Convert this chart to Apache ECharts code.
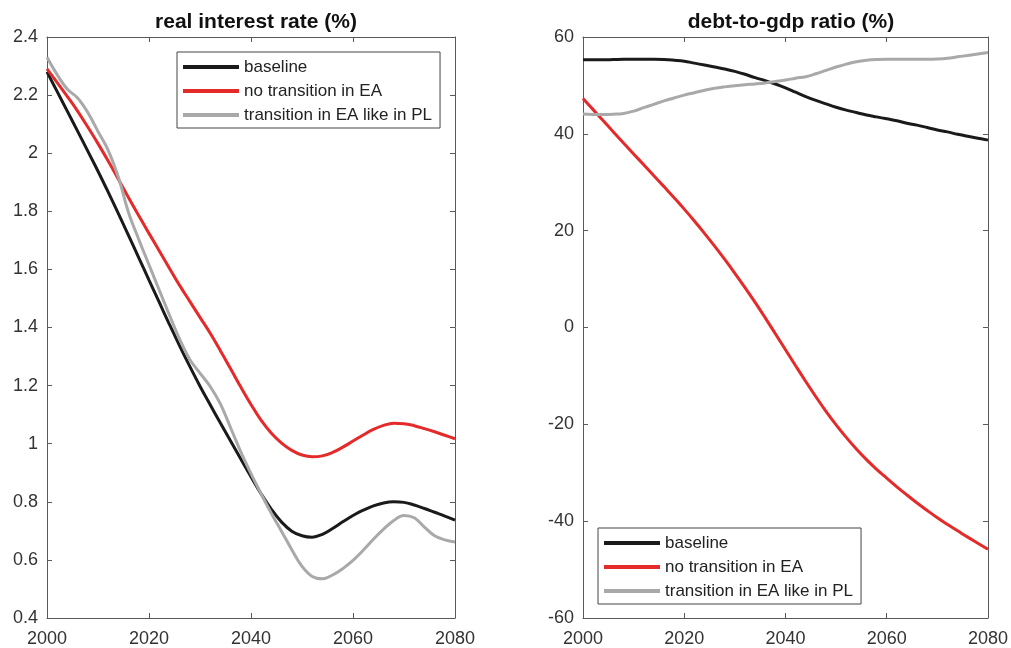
<!DOCTYPE html>
<html>
<head>
<meta charset="utf-8">
<title>real interest rate / debt-to-gdp ratio</title>
<script src="https://cdn.jsdelivr.net/npm/echarts@6.0.0/dist/echarts.min.js"></script>
<style>
  html, body { margin: 0; padding: 0; background: #fff; }
  #chart { width: 1011px; height: 648px; }
</style>
</head>
<body>
<div id="chart"></div>
<script>
// years on the horizontal axis (both panels)
const years = [2000, 2002, 2004, 2006, 2008, 2010, 2012, 2014, 2016, 2018,
  2020, 2022, 2024, 2026, 2028, 2030, 2032, 2034, 2036, 2038,
  2040, 2042, 2044, 2046, 2048, 2050, 2052, 2054, 2056, 2058,
  2060, 2062, 2064, 2066, 2068, 2070, 2072, 2074, 2076, 2078, 2080];

const seriesNames = ['baseline', 'no transition in EA', 'transition in EA like in PL'];

// real interest rate (%)
const rateBaseline = [2.28, 2.212, 2.144, 2.076, 2.007, 1.938, 1.866, 1.792, 1.716, 1.64,
  1.563, 1.487, 1.411, 1.337, 1.266, 1.198, 1.134, 1.071, 1.009, 0.947,
  0.886, 0.827, 0.774, 0.73, 0.699, 0.683, 0.678, 0.688, 0.708, 0.731,
  0.753, 0.771, 0.786, 0.796, 0.80, 0.798, 0.789, 0.777, 0.764, 0.751, 0.737];
const rateNoTransition = [2.29, 2.243, 2.195, 2.145, 2.09, 2.033, 1.973, 1.91, 1.847, 1.785,
  1.724, 1.664, 1.604, 1.545, 1.49, 1.435, 1.38, 1.32, 1.258, 1.195,
  1.135, 1.08, 1.036, 1.002, 0.977, 0.961, 0.955, 0.958, 0.97, 0.988,
  1.009, 1.03, 1.049, 1.063, 1.07, 1.069, 1.062, 1.052, 1.041, 1.029, 1.017];
const rateTransitionPL = [2.33, 2.27, 2.22, 2.19, 2.14, 2.075, 2.01, 1.917, 1.795, 1.703,
  1.616, 1.529, 1.443, 1.36, 1.29, 1.243, 1.197, 1.137, 1.055, 0.972,
  0.897, 0.827, 0.76, 0.698, 0.635, 0.578, 0.543, 0.535, 0.548, 0.57,
  0.598, 0.633, 0.671, 0.706, 0.736, 0.753, 0.745, 0.713, 0.683, 0.669, 0.662];

// debt-to-gdp ratio (%)
const debtBaseline = [55.3, 55.3, 55.3, 55.35, 55.4, 55.4, 55.4, 55.4, 55.35, 55.2,
  55.0, 54.6, 54.2, 53.8, 53.4, 52.9, 52.3, 51.6, 51.0, 50.3,
  49.5, 48.6, 47.7, 46.9, 46.2, 45.5, 44.9, 44.4, 43.9, 43.5,
  43.1, 42.7, 42.2, 41.8, 41.3, 40.8, 40.4, 39.9, 39.5, 39.1, 38.7];
const debtNoTransition = [47.3, 45.0, 42.7, 40.4, 38.1, 35.85, 33.6, 31.35, 29.1, 26.8,
  24.45, 22.0, 19.45, 16.8, 14.05, 11.2, 8.25, 5.2, 2.0, -1.3,
  -4.6, -7.9, -11.15, -14.3, -17.3, -20.1, -22.7, -25.1, -27.3, -29.3,
  -31.1, -32.9, -34.6, -36.25, -37.8, -39.3, -40.7, -42.0, -43.3, -44.55, -45.8];
const debtTransitionPL = [44.1, 44.0, 44.0, 44.05, 44.2, 44.7, 45.4, 46.1, 46.8, 47.4,
  48.0, 48.5, 49.0, 49.4, 49.7, 49.95, 50.15, 50.3, 50.5, 50.8,
  51.1, 51.5, 51.8, 52.4, 53.1, 53.8, 54.4, 54.9, 55.2, 55.35,
  55.4, 55.4, 55.4, 55.4, 55.4, 55.45, 55.6, 55.9, 56.2, 56.5, 56.8];

const lineColors = ['#1a1a1a', '#e52a2a', '#a9a9a9'];
const fontFamily = '"Liberation Sans", Arial, Helvetica, sans-serif';
const frameColor = '#595959';

const pairs = (vals) => years.map((y, i) => [y, vals[i]]);

// one axis of a panel; the top / right copies only draw the frame and inner ticks
function makeXAxis(gridIndex, position) {
  return {
    type: 'value', gridIndex: gridIndex, position: position,
    min: 2000, max: 2080, interval: 20,
    axisLine: { show: true, onZero: false, lineStyle: { color: frameColor, width: 1 } },
    axisTick: { show: true, inside: true, length: 5, lineStyle: { color: frameColor } },
    axisLabel: {
      show: position === 'bottom', margin: 12, color: '#333',
      fontSize: 18, fontFamily: fontFamily,
      formatter: (v) => String(v)
    },
    splitLine: { show: false }
  };
}

function makeYAxis(gridIndex, position, min, max, interval) {
  return {
    type: 'value', gridIndex: gridIndex, position: position,
    min: min, max: max, interval: interval,
    axisLine: { show: true, onZero: false, lineStyle: { color: frameColor, width: 1 } },
    axisTick: { show: true, inside: true, length: 5, lineStyle: { color: frameColor } },
    axisLabel: {
      show: position === 'left', margin: 9, color: '#333',
      fontSize: 18, fontFamily: fontFamily,
      formatter: (v) => String(Math.round(v * 10) / 10)
    },
    splitLine: { show: false }
  };
}

function makeSeries(name, vals, colorIdx, axisIdx) {
  return {
    name: name, type: 'line', data: pairs(vals),
    xAxisIndex: axisIdx, yAxisIndex: axisIdx,
    symbol: 'none', smooth: 0.4,
    lineStyle: { color: lineColors[colorIdx], width: 3 },
    itemStyle: { color: lineColors[colorIdx] },
    animation: false
  };
}

function makeLegend(left, top) {
  return {
    data: seriesNames, orient: 'vertical', left: left, top: top,
    icon: 'rect', itemWidth: 56, itemHeight: 4, itemGap: 4,
    padding: [5, 8, 3, 6],
    backgroundColor: '#fff', borderColor: '#444', borderWidth: 1,
    textStyle: { fontSize: 17, lineHeight: 20, color: '#222', fontFamily: fontFamily },
    selectedMode: false
  };
}

const chart = echarts.init(document.getElementById('chart'));
chart.setOption({
  animation: false,
  title: [
    {
      text: 'real interest rate (%)', left: 251, top: 7, textAlign: 'center',
      textStyle: { fontSize: 21, fontWeight: 'bold', color: '#111', fontFamily: fontFamily }
    },
    {
      text: 'debt-to-gdp ratio (%)', left: 786, top: 7, textAlign: 'center',
      textStyle: { fontSize: 21, fontWeight: 'bold', color: '#111', fontFamily: fontFamily }
    }
  ],
  legend: [makeLegend(177, 52), makeLegend(598, 528)],
  grid: [
    { left: 47, top: 37, width: 408, height: 582 },
    { left: 583, top: 37, width: 407, height: 582 }
  ],
  xAxis: [
    makeXAxis(0, 'bottom'), makeXAxis(1, 'bottom'),
    makeXAxis(0, 'top'), makeXAxis(1, 'top')
  ],
  yAxis: [
    makeYAxis(0, 'left', 0.4, 2.4, 0.2), makeYAxis(1, 'left', -60, 60, 20),
    makeYAxis(0, 'right', 0.4, 2.4, 0.2), makeYAxis(1, 'right', -60, 60, 20)
  ],
  series: [
    makeSeries(seriesNames[0], rateBaseline, 0, 0),
    makeSeries(seriesNames[1], rateNoTransition, 1, 0),
    makeSeries(seriesNames[2], rateTransitionPL, 2, 0),
    makeSeries(seriesNames[0], debtBaseline, 0, 1),
    makeSeries(seriesNames[1], debtNoTransition, 1, 1),
    makeSeries(seriesNames[2], debtTransitionPL, 2, 1)
  ]
});
</script>
</body>
</html>
